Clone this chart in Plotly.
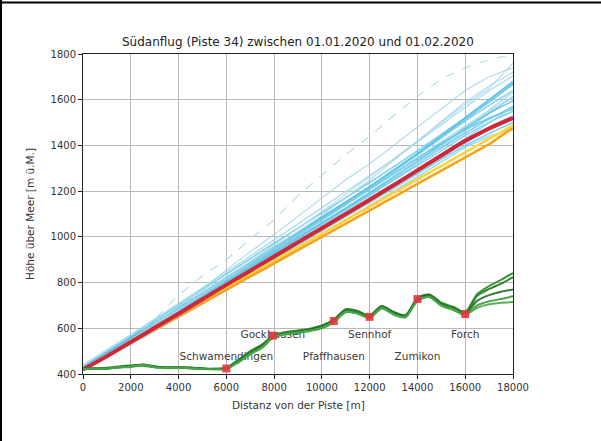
import plotly.graph_objects as go

# Distance from the runway threshold [m], sampled every 1000 m for the flight tracks
distance = [0, 1000, 2000, 3000, 4000, 5000, 6000, 7000, 8000, 9000,
            10000, 11000, 12000, 13000, 14000, 15000, 16000, 17000, 18000]

# Recorded altitudes of individual approaches [m ü.M.]
approach_paths = [
    [425, 485, 545, 606, 668, 730, 792, 855, 918, 980, 1042, 1105, 1168, 1232, 1297, 1362, 1425, 1480, 1530],
    [422, 482, 548, 612, 676, 740, 805, 870, 935, 998, 1062, 1126, 1190, 1255, 1322, 1390, 1455, 1515, 1570],
    [428, 490, 552, 618, 684, 750, 815, 880, 946, 1012, 1078, 1144, 1210, 1278, 1346, 1415, 1485, 1550, 1610],
    [420, 476, 534, 594, 655, 716, 778, 840, 902, 965, 1026, 1088, 1150, 1212, 1276, 1340, 1400, 1452, 1500],
    [424, 484, 546, 610, 672, 736, 800, 864, 928, 992, 1055, 1120, 1186, 1252, 1320, 1392, 1466, 1540, 1615],
    [430, 494, 558, 624, 690, 756, 822, 888, 954, 1020, 1086, 1152, 1220, 1290, 1362, 1436, 1512, 1590, 1668],
    [421, 480, 540, 600, 660, 722, 785, 848, 910, 972, 1034, 1096, 1158, 1222, 1286, 1352, 1418, 1476, 1525],
    [426, 488, 550, 614, 678, 742, 808, 874, 940, 1006, 1072, 1140, 1208, 1276, 1344, 1410, 1470, 1520, 1560],
    [423, 481, 542, 603, 665, 728, 790, 852, 916, 980, 1046, 1112, 1180, 1250, 1322, 1400, 1478, 1555, 1632],
    [432, 498, 566, 634, 702, 770, 838, 906, 972, 1038, 1104, 1170, 1238, 1306, 1376, 1448, 1522, 1598, 1676],
    [420, 474, 530, 588, 646, 706, 766, 826, 888, 950, 1012, 1074, 1136, 1198, 1262, 1328, 1392, 1440, 1470],
    [422, 479, 537, 596, 656, 717, 779, 842, 905, 968, 1031, 1094, 1157, 1220, 1284, 1348, 1412, 1470, 1515],
    [427, 489, 553, 617, 681, 746, 811, 876, 942, 1008, 1074, 1142, 1212, 1284, 1358, 1432, 1506, 1575, 1640],
    [425, 486, 548, 611, 674, 738, 802, 866, 930, 995, 1060, 1126, 1194, 1262, 1332, 1404, 1476, 1542, 1595],
    [440, 505, 572, 640, 708, 776, 846, 916, 986, 1056, 1126, 1196, 1268, 1340, 1414, 1490, 1568, 1640, 1705],
    [424, 483, 544, 606, 670, 734, 798, 862, 926, 990, 1054, 1118, 1182, 1246, 1310, 1376, 1444, 1502, 1550],
    [421, 478, 538, 598, 659, 720, 782, 845, 908, 971, 1034, 1097, 1160, 1224, 1290, 1358, 1430, 1500, 1568],
    [429, 492, 556, 621, 686, 752, 818, 884, 950, 1016, 1082, 1150, 1220, 1292, 1366, 1442, 1520, 1600, 1680],
]

# Approaches that left the glide path high
high_paths = [
    [420, 480, 545, 640, 745, 830, 900, 990, 1075, 1180, 1270, 1360, 1440, 1530, 1615, 1690, 1740, 1775, 1798],
    [425, 485, 550, 620, 695, 775, 855, 935, 1010, 1090, 1170, 1250, 1320, 1400, 1480, 1560, 1640, 1700, 1740],
    [422, 482, 546, 612, 680, 748, 816, 884, 952, 1022, 1094, 1170, 1250, 1334, 1420, 1508, 1590, 1660, 1720],
    [424, 486, 550, 616, 684, 752, 822, 892, 964, 1036, 1110, 1186, 1262, 1340, 1420, 1500, 1580, 1650, 1760],
]

# Nominal glide path and mean of all approaches
glide_path = [420, 478, 536, 594, 652, 710, 768, 826, 884, 942, 1000, 1058, 1116, 1174, 1232, 1290, 1348, 1406, 1476]
glide_upper = [422, 482, 541, 600, 659, 718, 777, 836, 895, 954, 1013, 1072, 1131, 1190, 1249, 1308, 1367, 1426, 1488]
mean_path = [420, 478, 540, 602, 664, 727, 790, 852, 914, 977, 1038, 1100, 1162, 1226, 1291, 1356, 1420, 1474, 1520]

# Terrain under the ground tracks, sampled every 500 m
terrain_distance = [0, 500, 1000, 1500, 2000, 2500, 3000, 3500, 4000, 4500, 5000, 5500, 6000,
                    6500, 7000, 7500, 8000, 8500, 9000, 9500, 10000, 10500, 11000, 11500, 12000,
                    12500, 13000, 13500, 14000, 14500, 15000, 15500, 16000, 16500, 17000, 17500, 18000]
terrain_profiles = [
    [422, 423, 424, 430, 434, 440, 431, 427, 430, 426, 423, 422, 424, 455, 492, 522, 568, 578, 585, 592, 606, 632, 676, 668, 650, 692, 665, 652, 725, 742, 705, 686, 662, 742, 772, 795, 824],
    [424, 425, 427, 433, 437, 436, 429, 430, 428, 424, 422, 423, 428, 462, 500, 530, 572, 584, 590, 598, 612, 638, 680, 672, 656, 698, 672, 658, 732, 748, 712, 694, 672, 750, 785, 812, 842],
    [421, 422, 423, 428, 431, 437, 433, 425, 428, 427, 424, 421, 423, 450, 486, 515, 562, 574, 580, 588, 600, 626, 670, 664, 646, 686, 660, 648, 720, 736, 698, 680, 658, 700, 718, 728, 740],
    [423, 424, 425, 431, 436, 442, 434, 428, 431, 428, 425, 423, 426, 458, 496, 526, 566, 580, 588, 596, 610, 636, 684, 676, 654, 696, 670, 656, 730, 746, 708, 690, 666, 720, 745, 760, 770],
    [422, 423, 424, 429, 433, 439, 430, 426, 429, 425, 422, 421, 422, 452, 488, 518, 564, 576, 583, 590, 603, 630, 672, 664, 648, 690, 662, 650, 722, 738, 700, 684, 660, 690, 705, 712, 715],
]

# Villages along the approach
villages = ["Schwamendingen", "Gockhausen", "Pfaffhausen", "Sennhof", "Zumikon", "Forch"]
village_distance = [6000, 7950, 10500, 12000, 14000, 16000]
village_height = [424, 568, 632, 650, 728, 662]
label_height = [474, 570, 474, 570, 474, 570]

x0_px, x1_px, y0_px, y1_px = 83, 513, 54, 374
W, H = 601, 441
FONT = "DejaVu Sans"

fig = go.Figure()

# village names sit beneath the data lines
fig.add_trace(go.Scatter(
    x=village_distance, y=label_height, mode="text", text=villages,
    textfont=dict(family=FONT, size=10.5, color="#3a3a3a"),
    textposition="middle center", hoverinfo="skip", showlegend=False))

blues = ["#7fcfe9", "#5fc4e6", "#a6dcef", "#6ccbe8", "#93d5ee", "#55bfe3"]
for i, alt in enumerate(approach_paths):
    fig.add_trace(go.Scatter(
        x=distance, y=alt, mode="lines",
        line=dict(color=blues[i % len(blues)], width=1.6),
        opacity=0.85, showlegend=False, hoverinfo="skip"))

for i, alt in enumerate(high_paths):
    fig.add_trace(go.Scatter(
        x=distance, y=alt, mode="lines",
        line=dict(color="#a9d8ea", width=1.1, dash="dash" if i == 0 else "solid"),
        opacity=0.9, showlegend=False, hoverinfo="skip"))

fig.add_trace(go.Scatter(x=distance, y=glide_upper, mode="lines",
                         line=dict(color="#ffd23a", width=2.5),
                         showlegend=False, hoverinfo="skip"))
fig.add_trace(go.Scatter(x=distance, y=glide_path, mode="lines",
                         line=dict(color="#f5a31a", width=2.5),
                         showlegend=False, hoverinfo="skip"))
fig.add_trace(go.Scatter(x=distance, y=mean_path, mode="lines",
                         line=dict(color="#d0283a", width=4, shape="spline"),
                         showlegend=False, hoverinfo="skip"))

greens = ["#1f7a1f", "#2e8b2e", "#3a9a3a", "#23702a", "#4aa84a"]
for i, h in enumerate(terrain_profiles):
    fig.add_trace(go.Scatter(
        x=terrain_distance, y=h, mode="lines",
        line=dict(color=greens[i], width=2, shape="spline", smoothing=0.8),
        opacity=0.9, showlegend=False, hoverinfo="skip"))

fig.add_trace(go.Scatter(
    x=village_distance, y=village_height, mode="markers",
    marker=dict(symbol="square", size=8, color="#e2383c", opacity=0.9),
    showlegend=False, hoverinfo="skip"))

axis_common = dict(
    showline=True, linecolor="#222", linewidth=1, mirror=True,
    ticks="outside", ticklen=4, tickcolor="#222",
    showgrid=True, gridcolor="#b8b8b8", gridwidth=0.8,
    tickfont=dict(family=FONT, size=10, color="#333"),
    zeroline=False, tickformat="d",
)
fig.update_xaxes(range=[0, 18000], dtick=2000, tick0=0, **axis_common)
fig.update_yaxes(range=[400, 1800], dtick=200, tick0=400, **axis_common)

pw = x1_px - x0_px
ph = y1_px - y0_px

fig.update_layout(
    width=W, height=H,
    margin=dict(l=x0_px, r=W - x1_px, t=y0_px, b=H - y1_px, pad=0),
    paper_bgcolor="white", plot_bgcolor="white",
    font=dict(family=FONT),
    annotations=[
        dict(text="Südanflug (Piste 34) zwischen 01.01.2020 und 01.02.2020",
             xref="paper", yref="paper", x=0.5, y=(y1_px - 42) / ph,
             xanchor="center", yanchor="middle", showarrow=False,
             font=dict(family=FONT, size=12, color="#222")),
        dict(text="Distanz von der Piste [m]",
             xref="paper", yref="paper", x=0.5, y=(y1_px - 405) / ph,
             xanchor="center", yanchor="middle", showarrow=False,
             font=dict(family=FONT, size=10.5, color="#333")),
        dict(text="Höhe über Meer [m ü.M.]", textangle=-90,
             xref="paper", yref="paper", x=(30 - x0_px) / pw, y=0.5,
             xanchor="center", yanchor="middle", showarrow=False,
             font=dict(family=FONT, size=10.5, color="#333")),
    ],
    shapes=[
        dict(type="line", xref="paper", yref="paper",
             x0=(1 - x0_px) / pw, x1=(1 - x0_px) / pw,
             y0=(y1_px - 0) / ph, y1=(y1_px - H) / ph,
             line=dict(color="black", width=2)),
        dict(type="line", xref="paper", yref="paper",
             x0=(0 - x0_px) / pw, x1=(W - x0_px) / pw,
             y0=(y1_px - 2.5) / ph, y1=(y1_px - 2.5) / ph,
             line=dict(color="black", width=2)),
    ],
)

fig.write_html("out.html")
